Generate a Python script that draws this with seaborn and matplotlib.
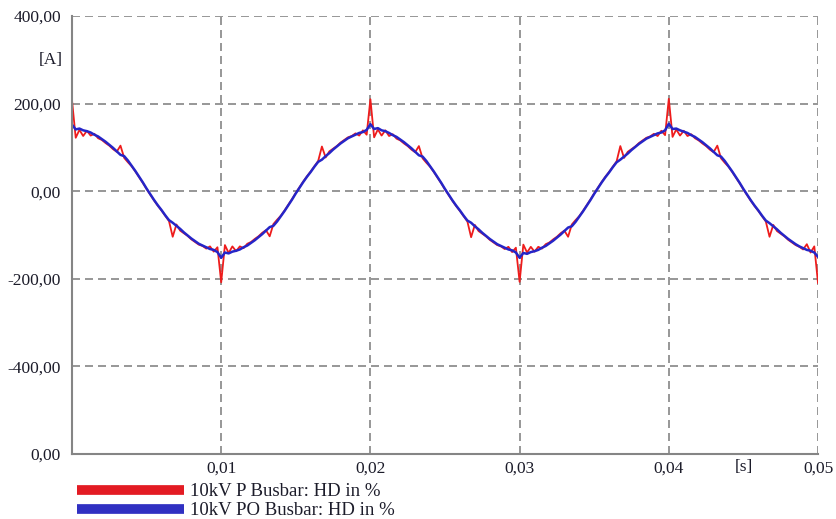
"""
    Current waveform at the 10kV busbars (P and PO), 2.5 cycles of 50 Hz.
    Values are read off the reference picture every 0.25 ms.
"""
import numpy as np
import pandas as pd
import seaborn as sns
import matplotlib.pyplot as plt
from matplotlib.lines import Line2D

#---- Data ----#
# sample grid in ms, 0 .. 50 ms step 0.25 ms (201 points)
t_ms = np.arange(0, 50.001, 0.25)

# 10kV P Busbar (red), one line per half cycle
red_current = [
    208, 122, 140, 126, 138, 127, 131, 121, 117, 110, 104, 96, 90, 104, 76, 66, 57, 45, 32, 19,
    5, -8, -21, -33, -44, -56, -68, -104, -76, -90, -96, -102, -110, -116, -122, -125, -131, -126, -138, -128,
    -208, -123, -141, -126, -137, -126, -130, -120, -116, -109, -103, -95, -89, -103, -75, -65, -56, -44, -31, -18,
    -4, 9, 22, 34, 45, 57, 69, 102, 77, 91, 97, 103, 111, 117, 123, 126, 132, 127, 139, 129,
    210, 123, 141, 127, 139, 126, 130, 120, 116, 109, 103, 95, 89, 103, 75, 65, 56, 44, 31, 18,
    4, -9, -22, -34, -45, -57, -69, -105, -77, -91, -97, -103, -111, -117, -123, -126, -132, -127, -139, -129,
    -207, -122, -140, -127, -138, -127, -131, -121, -117, -110, -104, -96, -90, -104, -76, -66, -57, -45, -32, -19,
    -5, 8, 21, 33, 44, 56, 68, 103, 76, 90, 96, 102, 110, 116, 122, 125, 131, 126, 138, 128,
    211, 124, 141, 127, 138, 126, 130, 121, 116, 109, 103, 95, 89, 104, 75, 65, 56, 44, 31, 18,
    4, -9, -22, -34, -45, -57, -69, -104, -77, -91, -97, -103, -111, -117, -123, -127, -133, -121, -140, -126,
    -210,
]

# 10kV PO Busbar (blue)
blue_current = [
    152, 141, 143, 139, 137, 134, 129, 125, 119, 113, 106, 99, 91, 83, 80, 70, 58, 46, 33, 20,
    6, -7, -20, -32, -43, -55, -66, -72, -79, -86, -94, -101, -108, -114, -120, -124, -128, -132, -134, -139,
    -152, -140, -142, -138, -136, -133, -128, -124, -118, -112, -105, -98, -90, -82, -79, -69, -57, -45, -32, -19,
    -5, 8, 21, 33, 44, 56, 67, 72, 80, 87, 95, 102, 109, 115, 121, 125, 129, 133, 135, 140,
    153, 142, 144, 139, 137, 133, 128, 124, 118, 112, 105, 98, 90, 82, 79, 69, 57, 45, 32, 19,
    5, -8, -21, -33, -44, -56, -67, -72, -80, -87, -95, -102, -109, -115, -121, -125, -129, -133, -135, -140,
    -152, -141, -143, -139, -137, -134, -129, -125, -119, -113, -106, -99, -91, -83, -80, -70, -58, -46, -33, -20,
    -6, 7, 20, 32, 43, 55, 66, 72, 79, 86, 94, 101, 108, 114, 120, 124, 128, 132, 134, 139,
    154, 142, 143, 139, 136, 133, 128, 124, 118, 112, 105, 98, 90, 82, 79, 69, 57, 45, 32, 19,
    5, -8, -21, -33, -44, -56, -67, -73, -80, -87, -95, -102, -109, -115, -121, -126, -130, -134, -136, -140,
    -150,
]

series_labels = ["10kV P Busbar: HD in %", "10kV PO Busbar: HD in %"]

x_ticks = [0.01, 0.02, 0.03, 0.04, 0.05]
x_tick_labels = ["0,01", "0,02", "0,03", "0,04", "0,05"]
y_ticks = [-600, -400, -200, 0, 200, 400]
y_tick_labels = ["0,00", "-400,00", "-200,00", "0,00", "200,00", "400,00"]

df = pd.DataFrame({"t": t_ms / 1000.0, "red": red_current, "blue": blue_current})

#---- Plot ----#
sns.set_style("white")
plt.rcParams['font.family'] = ['Liberation Serif', 'DejaVu Serif']
TXT = '#1c1c2a'
GRID = '#858585'

fig = plt.figure(figsize=(8.36, 5.19), dpi=100)
ax = fig.add_axes([0.0861, 0.1252, 0.8924, 0.8440])

sns.lineplot(data=df, x="t", y="red", color='#ee1c1c', linewidth=1.3, ax=ax, sort=False)
sns.lineplot(data=df, x="t", y="blue", color='#2525c8', linewidth=1.8, ax=ax, sort=False)

ax.set_xlim(0, 0.05)
ax.set_ylim(-600, 400)
ax.set_xlabel("")
ax.set_ylabel("")

ax.set_xticks(x_ticks)
ax.set_xticklabels(x_tick_labels)
ax.set_xticks([0.005, 0.015, 0.025, 0.035, 0.045], minor=True)
ax.set_yticks(y_ticks)
ax.set_yticklabels(y_tick_labels)
ax.set_yticks([-500, -300, -100, 100, 300], minor=True)

ax.tick_params(which='major', length=0, labelsize=12.5, labelcolor=TXT)
ax.tick_params(axis='y', which='major', pad=8)
ax.tick_params(axis='x', which='major', pad=5)
ax.tick_params(which='minor', direction='in', length=3, width=1, color=GRID)

ax.grid(True, which='major', linestyle=(0, (4.8, 3)), color=GRID, linewidth=1.2)
for side in ['top', 'right']:
    ax.spines[side].set_visible(False)
for side in ['left', 'bottom']:
    ax.spines[side].set_color(GRID)
    ax.spines[side].set_linewidth(1.5)

# unit labels
ax.text(-0.012, 300, "[A]", transform=ax.get_yaxis_transform(), ha='right', va='center',
        fontsize=12.5, color=TXT)
ax.text(0.045, -0.012, "[s]", transform=ax.get_xaxis_transform(), ha='center', va='top',
        fontsize=12.5, color=TXT)

# legend below the plot
handles = [Line2D([], [], color='#e31b23', lw=7, solid_capstyle='butt'),
           Line2D([], [], color='#3030c2', lw=7, solid_capstyle='butt')]
fig.legend(handles, series_labels, loc='upper left', bbox_to_anchor=(0.092, 0.0694),
           frameon=False, fontsize=13.5, handlelength=5.7, handletextpad=0.32,
           labelspacing=0.12, borderpad=0, borderaxespad=0, labelcolor=TXT)

fig.savefig('out.png', dpi=100)
plt.close()
